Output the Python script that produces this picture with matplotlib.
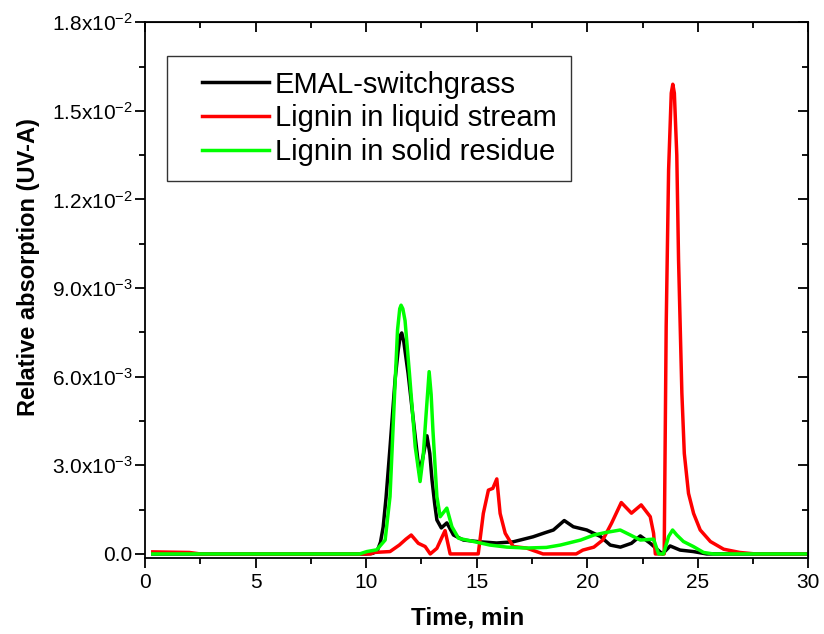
import numpy as np
import matplotlib
matplotlib.use("Agg")
import matplotlib.pyplot as plt
from matplotlib.ticker import MultipleLocator
from matplotlib.legend_handler import HandlerLine2D

plt.rcParams['font.family'] = ['Liberation Sans', 'DejaVu Sans']
plt.rcParams['mathtext.fontset'] = 'custom'
plt.rcParams['mathtext.rm'] = 'Liberation Sans'
plt.rcParams['mathtext.it'] = 'Liberation Sans:italic'
plt.rcParams['mathtext.bf'] = 'Liberation Sans:bold'

# values (time in min, absorption in 1e-3 units)
emal_t = [0.35, 10.0, 10.3, 10.5, 10.65, 10.77, 10.9, 11.08, 11.2, 11.31, 11.45,
          11.55, 11.61, 11.7, 11.9, 12.05, 12.2, 12.4, 12.55, 12.75, 12.88,
          12.98, 13.1, 13.2, 13.4, 13.65, 13.95, 14.4, 15.15, 15.9, 16.65, 17.55,
          18.1, 18.47, 18.96, 19.37, 19.98, 20.6, 21.04, 21.5, 22.0, 22.4, 22.85,
          23.2, 23.4, 23.75, 24.2, 24.8, 25.4, 30.0]
emal_y = [0.0, 0.0, 0.02, 0.1, 0.4, 0.91, 1.9, 3.6, 4.8, 5.9, 6.9,
          7.4, 7.48, 7.2, 6.1, 5.1, 4.1, 2.78, 3.2, 4.0, 3.4,
          2.5, 1.7, 1.15, 0.88, 1.05, 0.64, 0.47, 0.41, 0.37, 0.41, 0.58,
          0.72, 0.81, 1.13, 0.92, 0.81, 0.59, 0.3, 0.23, 0.36, 0.61, 0.36,
          0.13, 0.0, 0.27, 0.13, 0.08, 0.0, 0.0]

liquid_t = [0.35, 2.0, 2.5, 10.2, 10.36, 11.08, 11.5, 11.8, 12.04, 12.36, 12.67,
            12.9, 13.2, 13.45, 13.57, 13.8, 15.07, 15.3, 15.53, 15.73, 15.91,
            16.06, 16.29, 16.65, 17.25, 18.0, 19.5, 19.8, 20.3, 20.7, 21.1,
            21.54, 22.0, 22.44, 22.85, 23.0, 23.08, 23.48, 23.57, 23.68, 23.8,
            23.87, 23.94, 24.05, 24.13, 24.28, 24.39, 24.58, 24.81, 25.11, 25.57,
            26.17, 26.9, 27.6, 30.0]
liquid_y = [0.07, 0.05, 0.0, 0.0, 0.05, 0.08, 0.3, 0.5, 0.64, 0.36, 0.25,
            0.0, 0.19, 0.6, 0.79, 0.0, 0.0, 1.37, 2.16, 2.22, 2.54,
            1.37, 0.7, 0.25, 0.2, 0.0, 0.0, 0.13, 0.23, 0.47, 1.04,
            1.74, 1.38, 1.66, 1.26, 0.7, 0.0, 0.0, 7.7, 13.0, 15.6,
            15.9, 15.6, 13.5, 9.95, 5.44, 3.4, 2.05, 1.37, 0.81, 0.42,
            0.16, 0.05, 0.0, 0.0]

solid_t = [0.35, 9.7, 10.03, 10.48, 10.86, 11.08, 11.28, 11.42, 11.52, 11.58,
           11.66, 11.76, 11.96, 12.22, 12.44, 12.58, 12.7, 12.85, 12.94, 13.02,
           13.2, 13.35, 13.65, 13.88, 14.18, 14.86, 15.6, 16.37, 17.25, 18.15,
           18.78, 19.7, 20.3, 20.8, 21.49, 21.95, 22.4, 23.0, 23.23, 23.45,
           23.68, 23.86, 24.05, 24.35, 24.8, 25.26, 25.7, 30.0]
solid_y = [0.0, 0.0, 0.08, 0.14, 0.47, 1.94, 5.3, 7.58, 8.3, 8.42,
           8.3, 7.9, 6.1, 3.63, 2.45, 3.3, 4.6, 6.17, 5.4, 4.2,
           1.94, 1.26, 1.55, 0.92, 0.53, 0.42, 0.3, 0.23, 0.2, 0.22,
           0.3, 0.47, 0.64, 0.72, 0.81, 0.64, 0.47, 0.5, 0.0, 0.0,
           0.59, 0.81, 0.64, 0.42, 0.25, 0.05, 0.0, 0.0]

series_names = ["EMAL-switchgrass", "Lignin in liquid stream", "Lignin in solid residue"]
series_colors = ["black", "#ff0000", "#00ff00"]

ytick_vals = [0.0, 0.003, 0.006, 0.009, 0.012, 0.015, 0.018]
ytick_labels = ["0.0", r"3.0x10$^{-3}$", r"6.0x10$^{-3}$", r"9.0x10$^{-3}$",
                r"1.2x10$^{-2}$", r"1.5x10$^{-2}$", r"1.8x10$^{-2}$"]


class IndentedLine(HandlerLine2D):
    """legend line drawn only on the right part of the handle box (origin-style indent)"""
    def get_xdata(self, legend, xdescent, ydescent, width, height, fontsize):
        x0 = -xdescent + width * 0.24
        xd = np.array([x0, -xdescent + width])
        return xd, xd


def main():
    fig = plt.figure(figsize=(8.24, 6.34), dpi=100)
    ax = fig.add_axes([0.176, 0.120, 0.805, 0.845])

    data = [(emal_t, emal_y), (liquid_t, liquid_y), (solid_t, solid_y)]
    for (t, y), name, col in zip(data, series_names, series_colors):
        ax.plot(t, np.array(y) * 1e-3, color=col, lw=2.5, label=name)

    ax.set_xlim(0, 30)
    ax.set_ylim(-0.000135, 0.018)
    ax.xaxis.set_major_locator(MultipleLocator(5))
    ax.xaxis.set_minor_locator(MultipleLocator(2.5))
    ax.set_yticks(ytick_vals)
    ax.set_yticklabels(ytick_labels)
    ax.yaxis.set_minor_locator(MultipleLocator(0.0015))

    ax.tick_params(which='both', direction='out', top=False, right=False,
                   labelsize=15, width=1.3)
    ax.tick_params(which='major', length=7)
    ax.tick_params(which='minor', length=4)
    ax.tick_params(axis='y', pad=2)
    for s in ax.spines.values():
        s.set_linewidth(1.3)

    # inward ticks on top and right, like the original
    sec_x = ax.secondary_xaxis('top')
    sec_x.xaxis.set_major_locator(MultipleLocator(5))
    sec_x.xaxis.set_minor_locator(MultipleLocator(2.5))
    sec_x.tick_params(which='both', direction='in', labeltop=False, width=1.3)
    sec_x.tick_params(which='major', length=7)
    sec_x.tick_params(which='minor', length=4)
    sec_y = ax.secondary_yaxis('right')
    sec_y.set_yticks(ytick_vals)
    sec_y.yaxis.set_minor_locator(MultipleLocator(0.0015))
    sec_y.tick_params(which='both', direction='in', labelright=False, width=1.3)
    sec_y.tick_params(which='major', length=7)
    sec_y.tick_params(which='minor', length=4)

    ax.set_xlabel("Time, min", fontsize=17.5, fontweight='bold')
    ax.set_ylabel("Relative absorption (UV-A)", fontsize=17, fontweight='bold')
    ax.xaxis.set_label_coords(0.486, -0.09)
    ax.yaxis.set_label_coords(-0.158, 0.543)

    leg = ax.legend(loc='upper left', bbox_to_anchor=(0.033, 0.937), fontsize=21,
                    frameon=True, fancybox=False, edgecolor='black',
                    handlelength=3.0, handletextpad=0.2, borderpad=0.5,
                    labelspacing=0.2, borderaxespad=0,
                    handler_map={plt.Line2D: IndentedLine()})
    leg.get_frame().set_linewidth(1.0)

    fig.savefig("out.png", dpi=100)


if __name__ == "__main__":
    main()
